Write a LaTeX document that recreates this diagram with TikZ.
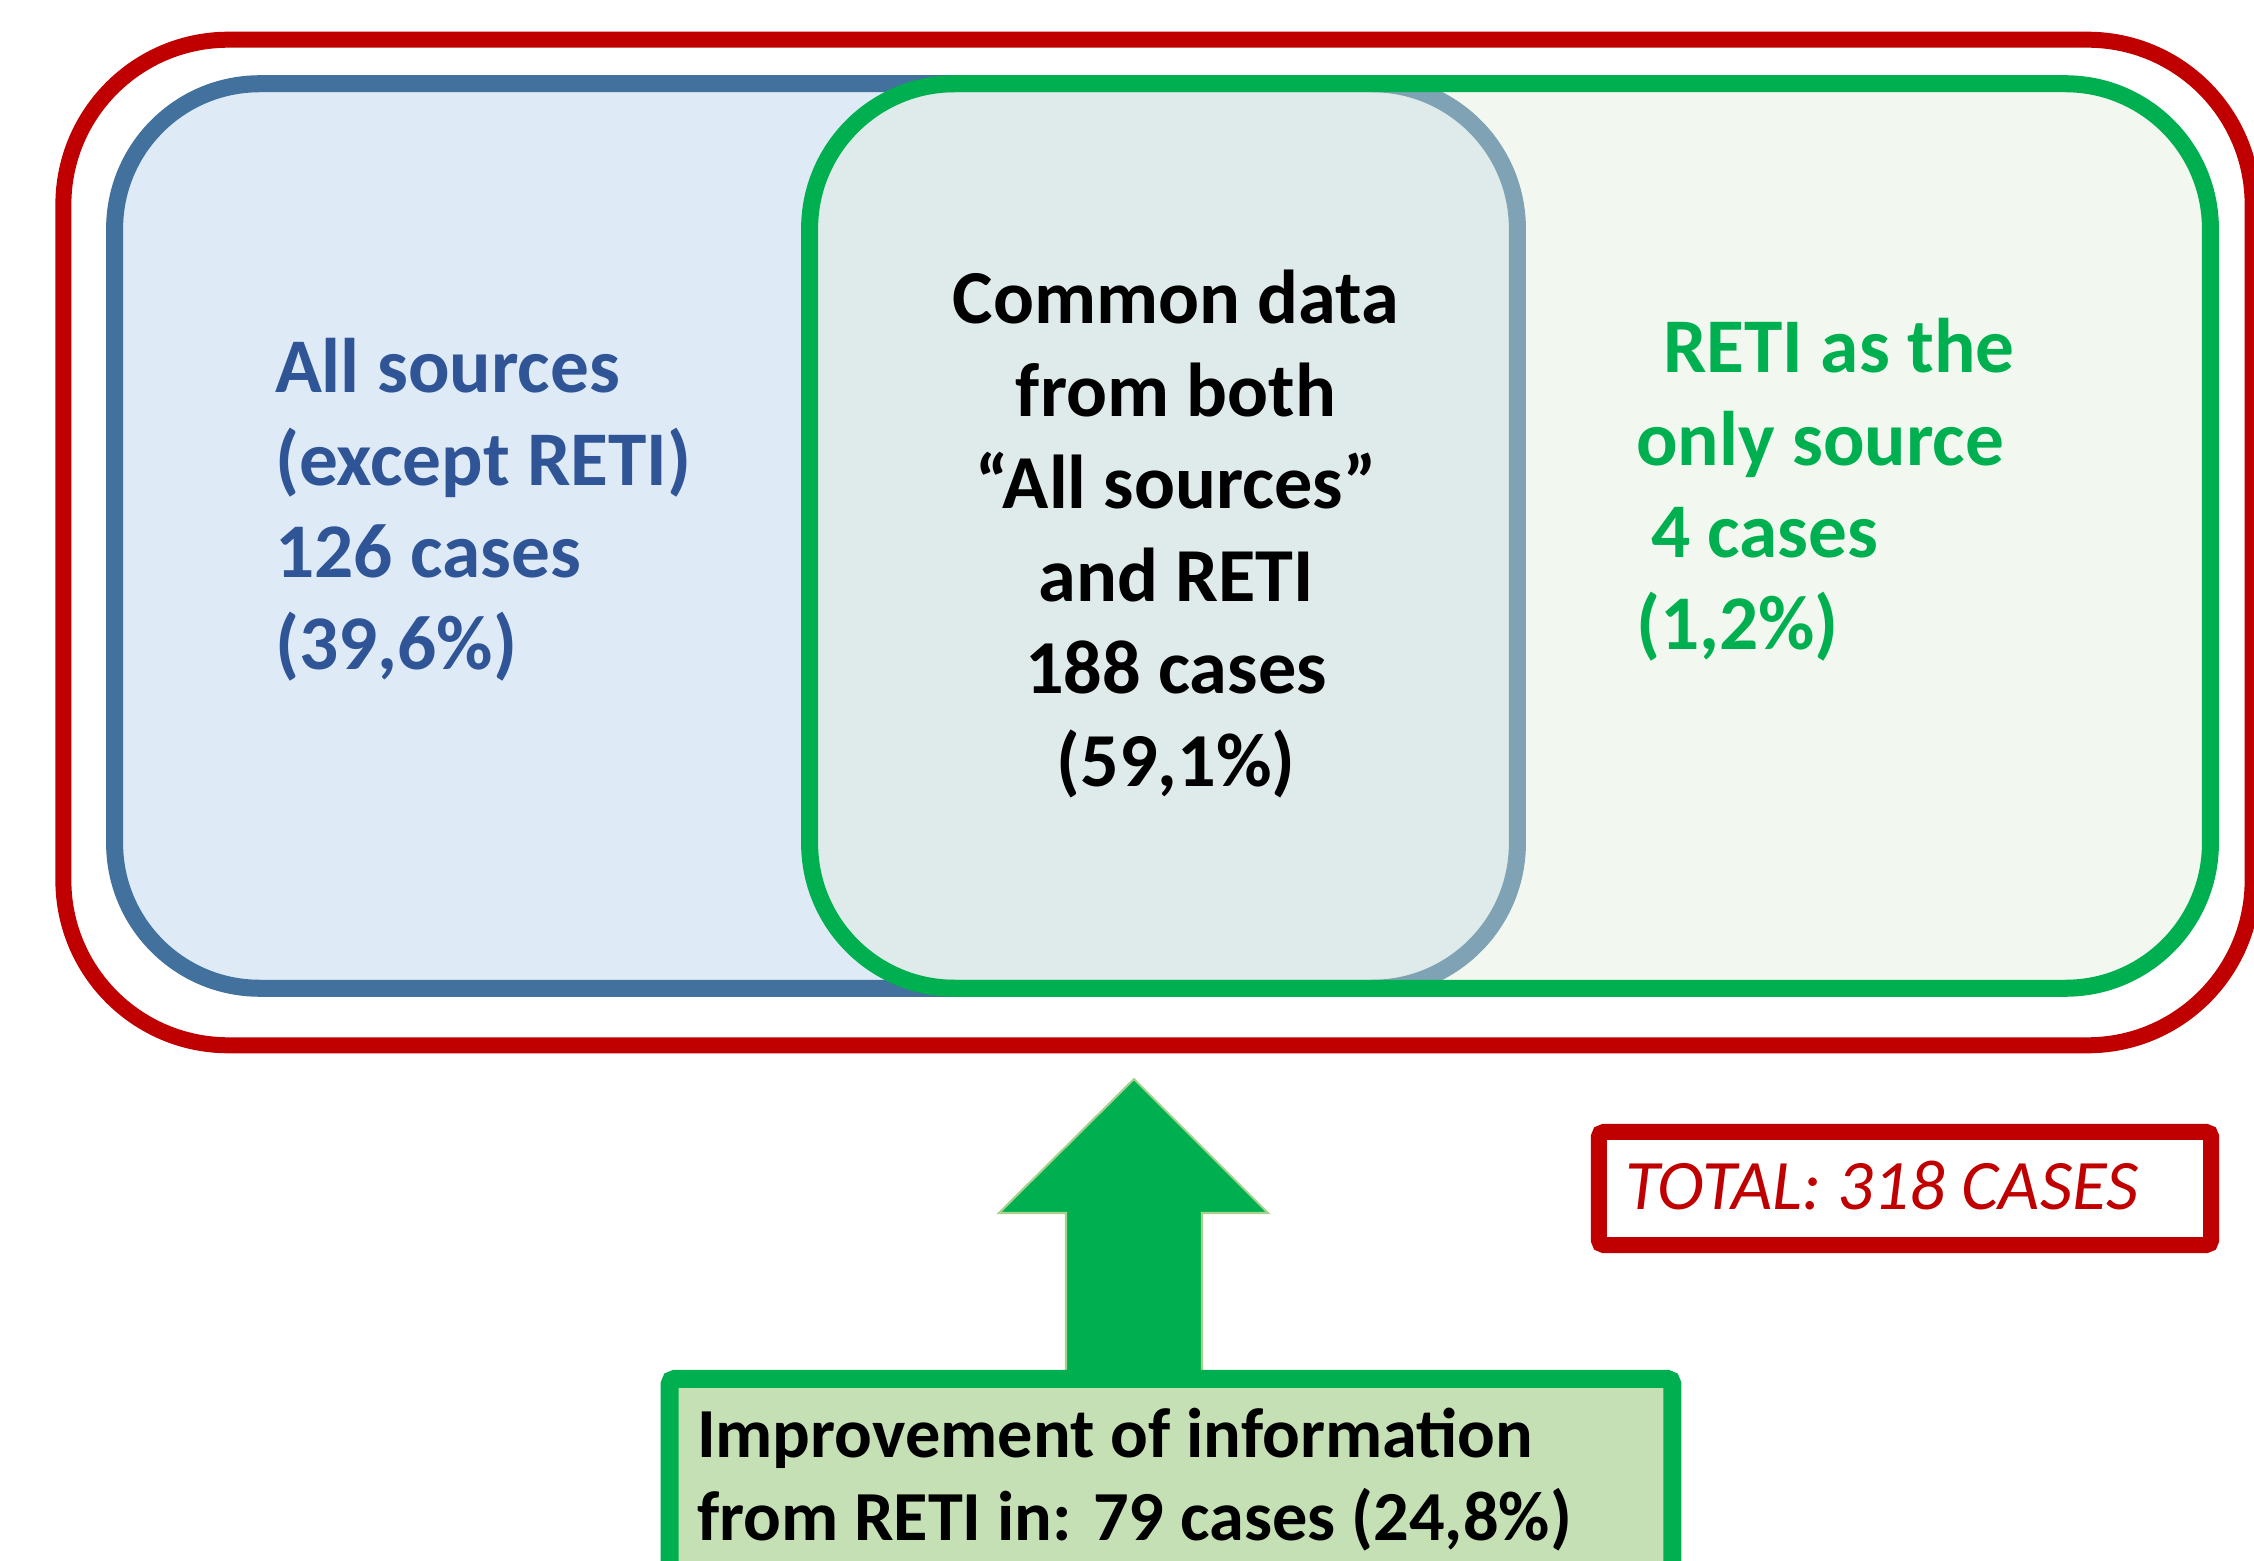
\documentclass[tikz,border=0pt]{standalone}
\usepackage{fontspec}
\setmainfont{Carlito}
\definecolor{redc}{HTML}{C00000}
\definecolor{blueline}{HTML}{41719C}
\definecolor{bluetext}{HTML}{2F5597}
\definecolor{bluefill}{HTML}{DEEAF6}
\definecolor{greenc}{HTML}{00B050}
\definecolor{greenfill}{RGB}{222,238,218}
\definecolor{greenbox}{HTML}{C5E0B4}
\definecolor{arrowedge}{HTML}{A9D18E}
\newcommand\mytopfont{\fontsize{22pt}{26.2pt}\selectfont\bfseries}
\newcommand\mymidfont{\fontsize{21.7pt}{26.3pt}\selectfont\bfseries}
\newcommand\mybotfont{\fontsize{20pt}{23.6pt}\selectfont\bfseries}
\tikzset{
  region/.style={rectangle, rounded corners=1.45cm, line width=4.84pt, inner sep=0pt},
  txt/.style={inner sep=0pt, outer sep=0pt},
}
\begin{document}
\begin{tikzpicture}[x=0.01cm,y=-0.01cm]
\useasboundingbox (0,0) rectangle (2254,1561);
\clip (0,0) rectangle (2254,1561);
% outer red frame
\node[rectangle, rounded corners=1.65cm, draw=redc, line width=4.55pt,
      minimum width=21.88cm, minimum height=10.05cm] (outer) at (1158,542.5) {};
% blue region
\node[region, draw=blueline, fill=bluefill,
      minimum width=14.02cm, minimum height=9.04cm] (blue) at (816,536) {};
% green region (semi-transparent fill)
\node[region, draw=greenc, fill=greenfill, fill opacity=0.4,
      minimum width=14.00cm, minimum height=9.04cm] (green) at (1510,536) {};
% texts
\node[txt, anchor=base west, text=bluetext] (lefttext) at (275,393)
  {\parbox[t]{5cm}{\mytopfont\raggedright All sources\\(except RETI)\\126 cases\\(39,6\%)}};
\node[txt, anchor=base, text=black] (midtext) at (1176,324)
  {\parbox[t]{6cm}{\mymidfont\centering Common data\\from both\\“All sources”\\and RETI\\188 cases\\(59,1\%)}};
\node[txt, anchor=base west, text=greenc] (righttext) at (1636,373)
  {\parbox[t]{5cm}{\mytopfont\raggedright \hspace*{0.27cm}RETI as the\\only source\\\hspace*{0.15cm}4 cases\\(1,2\%)}};
% total box
\node[rectangle, rounded corners=0.05cm, draw=redc, line width=4.55pt, fill=white,
      minimum width=6.12cm, minimum height=1.13cm] (totalbox) at (1905,1188.5) {};
\node[txt, anchor=base west, text=redc, font=\fontsize{20.2pt}{23pt}\selectfont\itshape] (totaltext) at (1625,1209) {TOTAL: 318 CASES};
% block arrow
\coordinate (tip) at (1134,1079);
\fill[greenc, draw=arrowedge, line width=0.6pt]
  (tip) -- ++(134,134) -- ++(-66,0) -- ++(0,170) -- ++(-136,0) -- ++(0,-170) -- ++(-67,0) -- cycle;
% bottom box
\node[rectangle, rounded corners=0.05cm, draw=greenc, fill=greenbox, line width=5.12pt,
      minimum width=10.02cm, minimum height=2.41cm] (improvebox) at (1171,1499.5) {};
\node[txt, anchor=base west, text=black] (improvetext) at (697,1457)
  {\parbox[t]{10cm}{\mybotfont\raggedright Improvement of information\\from RETI in: 79 cases (24,8\%)}};
\end{tikzpicture}
\end{document}
